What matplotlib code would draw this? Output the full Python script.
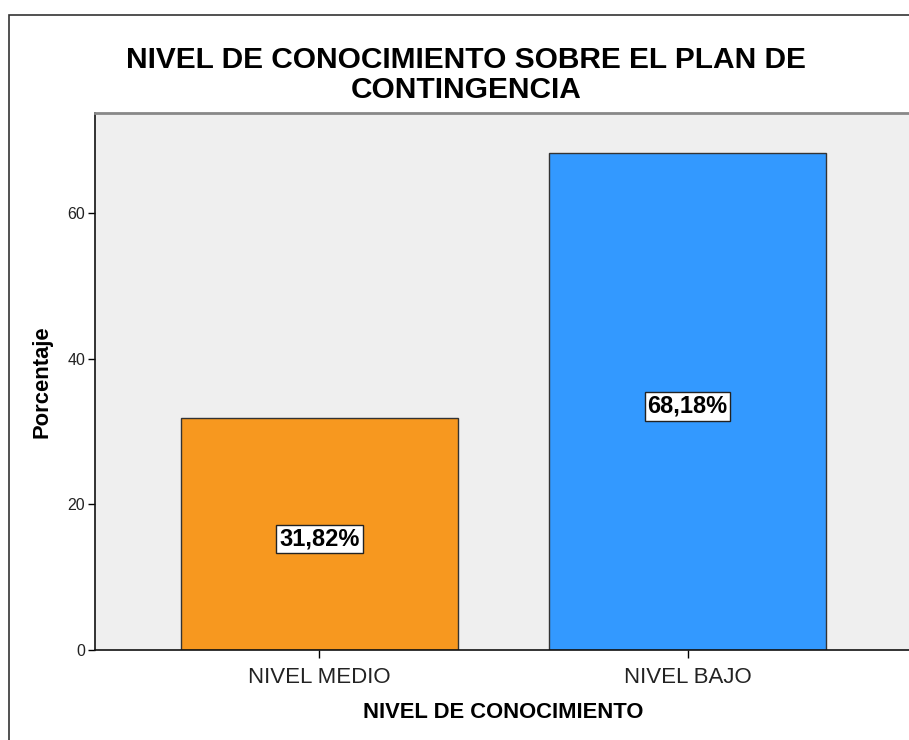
import matplotlib
matplotlib.use("Agg")
import matplotlib.pyplot as plt
from matplotlib.patches import Rectangle

categories = ["NIVEL MEDIO", "NIVEL BAJO"]
percentages = [31.82, 68.18]
bar_labels = ["31,82%", "68,18%"]
colors = ["#F7981F", "#3399FF"]
yticks = [0, 20, 40, 60]

plt.rcParams['font.family'] = ['Liberation Sans', 'DejaVu Sans']

fig = plt.figure(figsize=(9.09, 7.40), dpi=100)
W, H = 909, 740

# outer frame
fig.patches.append(Rectangle((9 / W, -0.1), 1.2, 1 - 15 / H + 0.1, transform=fig.transFigure,
                             fill=False, edgecolor="#333333", linewidth=1.2))

ax = fig.add_axes([95 / W, (H - 650) / H, (912 - 95) / W, (650 - 113) / H])
ax.set_facecolor("#EFEFEF")
x = list(range(len(categories)))
ax.bar(x, percentages, width=0.753, color=colors, edgecolor="#333333", linewidth=1.0, zorder=2)
ax.set_xlim(-0.61, 1.61)
ax.set_ylim(0, 73.7)
ax.set_yticks(yticks)
ax.set_yticklabels([str(t) for t in yticks], fontsize=11.5, color="#222222")
ax.set_xticks(x)
ax.set_xticklabels(categories, fontsize=16, color="#222222")
ax.tick_params(axis='y', length=5, width=1, direction='out', pad=2)
ax.tick_params(axis='x', length=6, width=1, direction='out', pad=6)

for sp in ("left", "bottom"):
    ax.spines[sp].set_color("#111111")
    ax.spines[sp].set_linewidth(1.2)
ax.spines["top"].set_color("#888888")
ax.spines["top"].set_linewidth(2)
ax.spines["right"].set_visible(False)

for xi, v, lab in zip(x, percentages, bar_labels):
    ax.annotate(lab, xy=(xi, v / 2), xytext=(0, -3.5), textcoords="offset points",
                ha="center", va="center", fontsize=17, fontweight="bold",
                color="black", zorder=3,
                bbox=dict(boxstyle="square,pad=0.12", facecolor="white", edgecolor="#222222", linewidth=1))

ax.set_xlabel("NIVEL DE CONOCIMIENTO", fontsize=15.8, fontweight="bold", labelpad=10)
ax.set_ylabel("Porcentaje", fontsize=15.8, fontweight="bold", labelpad=11)

fig.text(466 / W, 1 - 75 / H, "NIVEL DE CONOCIMIENTO SOBRE EL PLAN DE\nCONTINGENCIA",
         ha="center", va="center", fontsize=21.5, fontweight="bold", linespacing=1.05)

fig.savefig("out.png", dpi=100)
